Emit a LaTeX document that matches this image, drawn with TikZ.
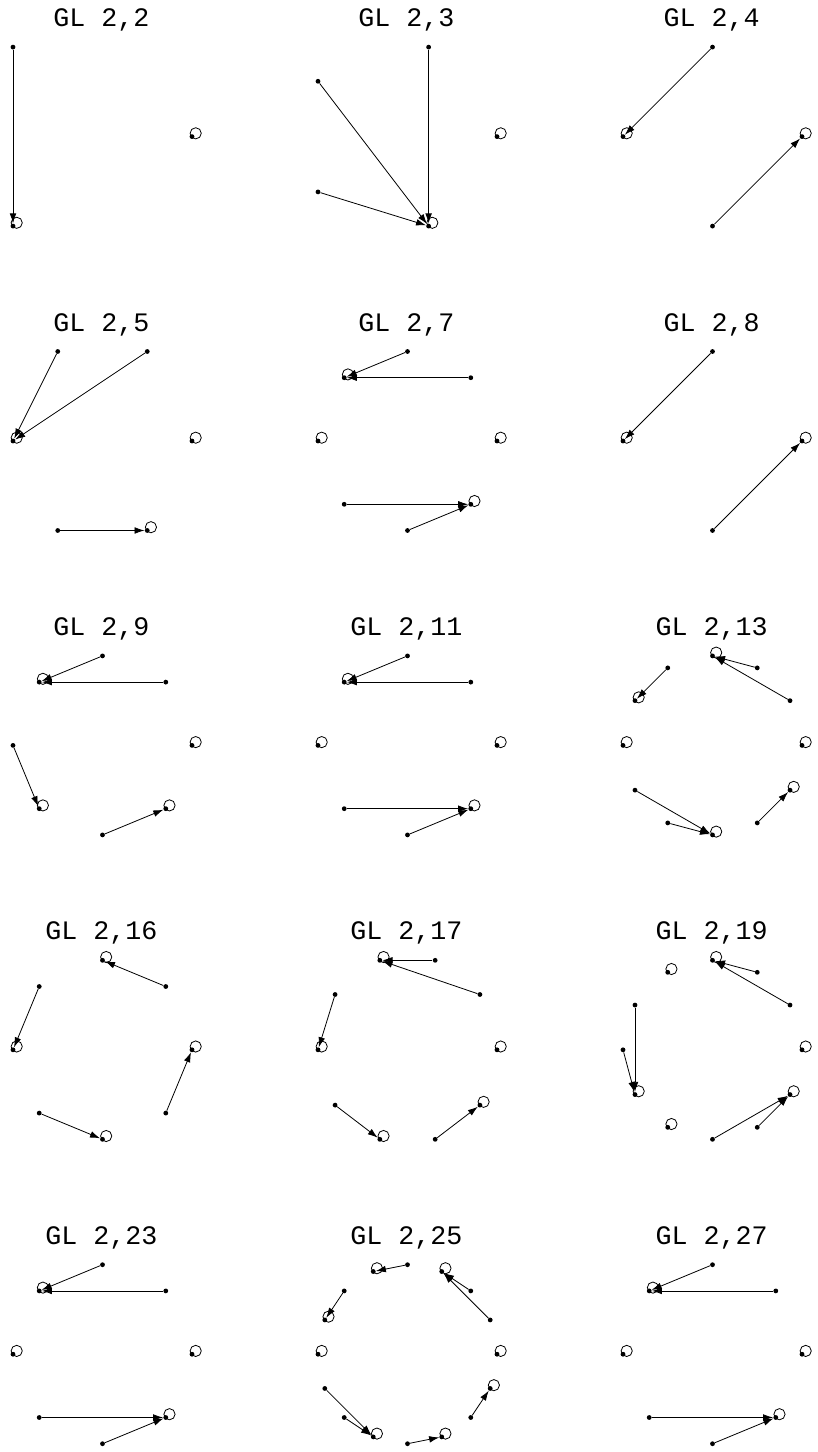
\documentclass[tikz,border=0pt]{standalone}
\usepackage{fontspec}
\setmonofont{Liberation Mono}
\usetikzlibrary{arrows.meta}

\begin{document}
\begin{tikzpicture}[x=0.75pt, y=-0.75pt, >={Latex[length=7.5pt,width=5pt]},
  dot/.style={circle, fill=black, inner sep=0pt, minimum size=3.6pt},
  arr/.style={->, line width=0.6pt},
  fixloop/.style={line width=0.6pt},
  title/.style={anchor=base, font=\ttfamily\fontsize{20}{24}\selectfont}]
  \useasboundingbox (0,0) rectangle (817,1452);

  % q / number of vertices / column / row / fixed vertices / arrows
  \foreach \q/\nv/\col/\row/\fix/\arrs in {
    2/3/0/0/{0,2}/{1/2},
    3/5/1/0/{0,4}/{1/4,2/4,3/4},
    4/4/2/0/{0,2}/{1/2,3/0},
    5/6/0/1/{0,3,5}/{2/3,1/3,4/5},
    7/8/1/1/{0,3,4,7}/{2/3,1/3,5/7,6/7},
    8/4/2/1/{0,2}/{1/2,3/0},
    9/8/0/2/{0,3,5,7}/{2/3,1/3,4/5,6/7},
    11/8/1/2/{0,3,4,7}/{2/3,1/3,5/7,6/7},
    13/12/2/2/{0,3,5,6,9,11}/{2/3,1/3,4/5,7/9,8/9,10/11},
    16/8/0/3/{0,2,4,6}/{1/2,3/4,5/6,7/0},
    17/10/1/3/{0,3,5,7,9}/{2/3,1/3,4/5,6/7,8/9},
    19/12/2/3/{0,3,4,7,8,11}/{2/3,1/3,5/7,6/7,9/11,10/11},
    23/8/0/4/{0,3,4,7}/{2/3,1/3,5/7,6/7},
    25/16/1/4/{0,3,5,7,8,11,13,15}/{4/5,2/3,1/3,6/7,9/11,10/11,12/13,14/15},
    27/8/2/4/{0,3,4,7}/{2/3,1/3,5/7,6/7}} {
    \pgfmathsetmacro{\cx}{102.5+305*\col}
    \pgfmathsetmacro{\cy}{136.6+304.4*\row}
    % polygon stretched to a square box
    \pgfmathsetmacro{\xlo}{isodd(\nv) ? -cos(180/\nv) : -1}
    \pgfmathsetmacro{\yeven}{mod(\nv,4)==0 ? 1 : cos(180/\nv)}
    \pgfmathsetmacro{\yhi}{isodd(\nv) ? cos(90/\nv) : \yeven}
    \pgfmathtruncatemacro{\kmax}{\nv-1}

    \node[title] (t\q) at ({\cx-1},{\cy-110}) {GL 2,\q};
    \foreach \k in {0,...,\kmax}
      \node[dot] (q\q-\k) at ({\cx+89.5*(2*(cos(360*\k/\nv)-\xlo)/(1-\xlo)-1)},
                              {\cy-89.5*sin(360*\k/\nv)/\yhi}) {};
    \foreach \src/\dst in \arrs
      \draw[arr] (q\q-\src) -- (q\q-\dst);
    \foreach \k in \fix
      \draw[fixloop] (q\q-\k.center) ++(3.7,-3.3) circle[radius=4.2pt];
  }
\end{tikzpicture}
\end{document}
